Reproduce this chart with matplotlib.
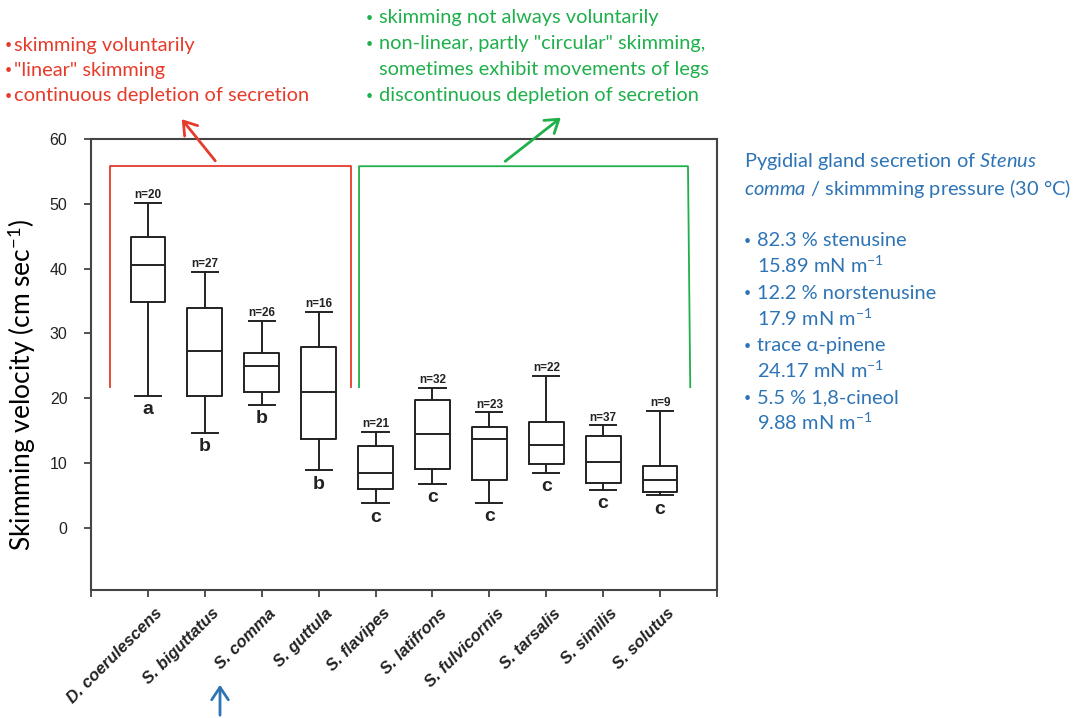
import numpy as np
import matplotlib
matplotlib.use("Agg")
import matplotlib.pyplot as plt
from matplotlib.transforms import ScaledTranslation
from matplotlib.patches import FancyArrowPatch

plt.rcParams['mathtext.fontset'] = 'custom'
plt.rcParams['mathtext.rm'] = 'Lato'
plt.rcParams['mathtext.it'] = 'Lato:italic'

# ---------------- data ----------------
species = ["D. coerulescens", "S. biguttatus", "S. comma", "S. guttula", "S. flavipes",
           "S. latifrons", "S. fulvicornis", "S. tarsalis", "S. similis", "S. solutus"]
n_obs = [20, 27, 26, 16, 21, 32, 23, 22, 37, 9]
groups = ["a", "b", "b", "b", "c", "c", "c", "c", "c", "c"]
whisker_high = [50.2, 39.5, 31.9, 33.3, 14.8, 21.6, 17.8, 23.5, 15.8, 18.0]
q3 = [44.9, 33.9, 27.0, 27.9, 12.6, 19.7, 15.6, 16.4, 14.1, 9.5]
median = [40.6, 27.3, 24.9, 21.0, 8.5, 14.4, 13.7, 12.7, 10.2, 7.4]
q1 = [34.9, 20.4, 20.9, 13.7, 6.0, 9.1, 7.4, 9.8, 6.9, 5.6]
whisker_low = [20.4, 14.7, 19.0, 8.9, 3.8, 6.8, 3.9, 8.5, 5.9, 5.0]
yticks = [0, 10, 20, 30, 40, 50, 60]

red_notes = ['skimming voluntarily', '"linear" skimming', 'continuous depletion of secretion']
green_notes = ['skimming not always voluntarily', 'non-linear, partly "circular" skimming,',
               'sometimes exhibit movements of legs', 'discontinuous depletion of secretion']

RED = '#E63B2B'
GREEN = '#1FAF4B'
BLUE = '#2E74B5'
W, H = 1080, 718
NOTE_FS = 14.4

fig = plt.figure(figsize=(W / 100, H / 100), dpi=100)
ax = fig.add_axes([91 / W, 1 - 590 / H, (717 - 91) / W, (590 - 139) / H])

def fx(x):
    return x / W

def fy(y):
    return 1 - y / H

pos = np.arange(1, len(species) + 1)
stats = []
for i in range(len(species)):
    stats.append(dict(med=median[i], q1=q1[i], q3=q3[i], whislo=whisker_low[i],
                      whishi=whisker_high[i], fliers=[], label=species[i]))
lp = dict(color='#222222', linewidth=1.4)
ax.bxp(stats, positions=pos, widths=0.61, capwidths=0.46, showfliers=False,
       boxprops=lp, whiskerprops=lp, capprops=lp, medianprops=lp, manage_ticks=False)

ax.set_xlim(0, 11)
ax.set_ylim(-9.6, 60)
ax.set_yticks(yticks)
ax.set_yticklabels([str(v) for v in yticks], fontfamily='Liberation Sans', fontsize=11.5,
                   color='#222222')
ax.set_xticks(np.arange(0, 12))
ax.set_xticklabels([])
ax.tick_params(axis='both', direction='out', length=5, width=1.2, color='#333333')
ax.tick_params(axis='y', pad=12)
for s in ax.spines.values():
    s.set_color('#444444')
    s.set_linewidth(1.5)

# category labels (rotated, offset like the reference)
lab_tr = ax.get_xaxis_transform() + ScaledTranslation(12 / 100, -21 / 100, fig.dpi_scale_trans)
for i in range(len(species)):
    ax.text(pos[i], 0, species[i], transform=lab_tr, rotation=45, ha='right', va='center',
            rotation_mode='anchor', fontfamily='Liberation Sans', fontsize=12,
            fontweight='bold', fontstyle='italic', color='#222222', clip_on=False)

# n labels and group letters
for i in range(len(species)):
    ax.annotate(f"n={n_obs[i]}", (pos[i], whisker_high[i]), xytext=(0, 3.5),
                textcoords='offset points', ha='center', va='baseline',
                fontfamily='Liberation Sans', fontweight='bold', fontsize=8.5, color='#222222')
    ax.annotate(groups[i], (pos[i], whisker_low[i]), xytext=(0, -13.3),
                textcoords='offset points', ha='center', va='baseline',
                fontfamily='Liberation Sans', fontweight='bold', fontsize=14, color='#222222')

fig.text(fx(22), fy(385), "Skimming velocity (cm sec$^{-1}$)", family='Lato', fontsize=19,
         rotation=90, ha='center', va='center')

# brackets (annotation lines grouping the species)
br_top, br_bottom = 55.8, 21.7
ax.plot([0.33, 0.33, 4.56, 4.56], [br_bottom, br_top, br_top, br_bottom], color=RED, lw=1.3)
ax.plot([4.71, 4.71, 10.49, 10.53], [br_bottom, br_top, br_top, br_bottom], color=GREEN, lw=1.3)

# arrows from brackets to notes
for (x0, y0, x1, y1, c) in [(217, 163, 180, 117, RED), (503, 163, 563, 116, GREEN)]:
    fig.patches.append(FancyArrowPatch((fx(x0), fy(y0)), (fx(x1), fy(y1)),
                                       transform=fig.transFigure, arrowstyle='->,head_length=6,head_width=4',
                                       color=c, lw=2, mutation_scale=1.5))
fig.patches.append(FancyArrowPatch((fx(220), fy(718)), (fx(220), fy(682)),
                                   transform=fig.transFigure, arrowstyle='->,head_length=6,head_width=4',
                                   color=BLUE, lw=2, mutation_scale=1.5))

# red notes
for k, t in enumerate(red_notes):
    y = 45 + k * 25.5
    fig.text(fx(5), fy(y), '•', color=RED, fontsize=9, family='Lato', va='center')
    fig.text(fx(14), fy(y), t, color=RED, fontsize=NOTE_FS, family='Lato', va='center')

# green notes
gy = [18, 44, 70, 96]
for k, t in enumerate(green_notes):
    if k != 2:
        fig.text(fx(366), fy(gy[k]), '•', color=GREEN, fontsize=9, family='Lato', va='center')
    fig.text(fx(379), fy(gy[k]), t, color=GREEN, fontsize=NOTE_FS, family='Lato', va='center')

# blue side text
bt = dict(color=BLUE, fontsize=NOTE_FS, family='Lato', va='center')
fig.text(fx(744), fy(162), r"Pygidial gland secretion of $\mathit{Stenus}$", **bt)
fig.text(fx(744), fy(188), r"$\mathit{comma}$ / skimmming pressure (30 °C)", **bt)
blue_items = [("82.3 % stenusine", "15.89 mN m$^{-1}$"),
              ("12.2 % norstenusine", "17.9 mN m$^{-1}$"),
              ("trace α-pinene", "24.17 mN m$^{-1}$"),
              ("5.5 % 1,8-cineol", "9.88 mN m$^{-1}$")]
for k, (a, b) in enumerate(blue_items):
    y = 241 + k * 52.3
    fig.text(fx(744), fy(y), '•', color=BLUE, fontsize=9, family='Lato', va='center')
    fig.text(fx(757), fy(y), a, **bt)
    fig.text(fx(757), fy(y + 24.5), b, **bt)

fig.savefig("out.png", dpi=100)
